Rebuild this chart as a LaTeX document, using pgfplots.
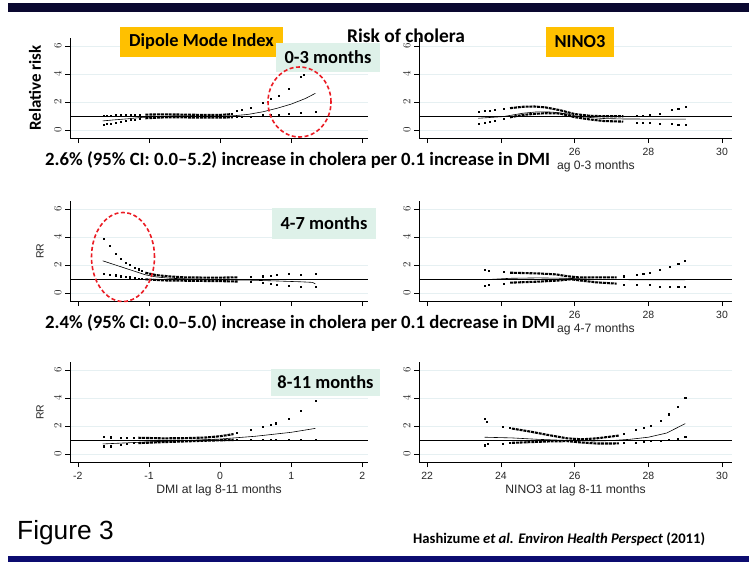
\documentclass[border=0pt]{standalone}
\usepackage{fontspec}
\setmainfont{Liberation Sans}
\newfontfamily\slide{Carlito}
\usepackage{pgfplots}
\pgfplotsset{compat=1.18}
\definecolor{topbar}{RGB}{10,8,48}
\definecolor{botbar}{RGB}{12,12,112}
\definecolor{gold}{RGB}{255,192,0}
\definecolor{mint}{RGB}{222,241,233}
\definecolor{gridc}{RGB}{230,240,242}
\definecolor{ring}{RGB}{235,28,36}

\pgfplotsset{
  rr/.style={scale only axis, height=100bp, ymin=-0.57, ymax=6.57, ytick={0,2,4,6},
    axis x line*=bottom, axis y line*=left, axis line style={black, line width=0.6pt},
    tick align=outside, major tick length=5bp, tick style={black, line width=0.6pt},
    ymajorgrids, grid style={gridc, line width=0.9pt},
    yticklabel style={rotate=90, anchor=south, font=\fontsize{10.5}{12}\selectfont, text=black!85},
    xticklabel style={font=\fontsize{10.5}{12}\selectfont, text=black!85, yshift=-1.5bp},
    xlabel style={font=\fontsize{12.2}{14}\selectfont, text=black!85,
      at={(axis description cs:0.5,0)}, anchor=north, yshift=-19bp},
    anchor=south west},
  dmi/.style={rr, width=298bp, xmin=-2.11, xmax=2.08, xtick={-2,-1,0,1,2}, xticklabels={-2,-1,0,1,2}},
  nino/.style={rr, width=313bp, xmin=21.78, xmax=30.27, xtick={22,24,26,28,30}, xticklabels={22,24,26,28,30}},
  hidden/.style={xticklabels={}},
  est/.style={black, line width=0.6pt, no marks},
  band/.style={black, line width=2.1pt, dash pattern=on 3pt off 0.9pt, no marks},
  dots/.style={only marks, mark=square*, mark size=0.55pt, black},
  ref/.style={black, line width=0.7pt, no marks},
}

\begin{document}
\begin{tikzpicture}
\useasboundingbox (0,0) rectangle (749bp,-562bp);
\fill[white] (0,0) rectangle (749bp,-562bp);

% row 1: lag 0-3 (left tick labels lie under the caption band)
\begin{axis}[dmi, hidden, at={(70bp,-138bp)}]
\addplot[ref] coordinates {(-2.11,1) (2.08,1)};
\addplot[est] coordinates {(-1.65,0.65) (-1.5,0.72) (-1.3,0.8) (-1.1,0.9) (-0.9,0.97) (-0.7,1.0) (-0.4,1.0) (-0.2,0.98) (0,0.98) (0.2,1.02) (0.4,1.12) (0.6,1.3) (0.8,1.55) (1.0,1.85) (1.2,2.25) (1.34,2.62)};
\addplot[band] coordinates {(-1.05,1.1) (-0.8,1.12) (-0.5,1.1) (-0.25,1.08) (0,1.08) (0.18,1.14)};
\addplot[band] coordinates {(-1.05,0.84) (-0.8,0.9) (-0.5,0.9) (-0.25,0.88) (0,0.88) (0.18,0.91)};
\addplot[dots] coordinates {(-1.64,1.05) (-1.6,1.04) (-1.54,1.05) (-1.47,1.06) (-1.4,1.06) (-1.33,1.07) (-1.26,1.08) (-1.2,1.09) (-1.13,1.1) (0.24,1.39) (0.3,1.45) (0.43,1.62) (0.6,1.93) (0.71,2.24) (0.83,2.47) (0.96,2.93) (1.14,3.78) (1.17,3.92)};
\addplot[dots] coordinates {(-1.64,0.38) (-1.6,0.42) (-1.54,0.48) (-1.47,0.54) (-1.4,0.6) (-1.33,0.66) (-1.26,0.71) (-1.2,0.75) (-1.13,0.8) (0.24,0.92) (0.3,0.94) (0.43,0.98) (0.6,1.06) (0.71,1.07) (0.83,1.08) (0.96,1.15) (1.14,1.25) (1.34,1.32)};
\end{axis}

\begin{axis}[nino, xticklabels={,,26,28,30}, at={(419bp,-138bp)}, xlabel={NINO3 at lag 0-3 months}, xlabel style={xshift=-8bp}]
\addplot[ref] coordinates {(21.78,1) (30.27,1)};
\addplot[est] coordinates {(23.39,0.84) (24.07,0.96) (24.6,1.2) (25.0,1.3) (25.4,1.28) (25.8,1.15) (26.0,1.02) (26.4,0.9) (26.8,0.82) (27.3,0.79) (28,0.78) (29.02,0.78)};
\addplot[band] coordinates {(24.25,1.56) (24.6,1.66) (24.9,1.68) (25.2,1.62) (25.6,1.42) (26.0,1.14) (26.4,1.02) (26.8,0.98) (27.32,0.98)};
\addplot[band] coordinates {(24.25,0.91) (24.6,1.08) (24.9,1.15) (25.2,1.2) (25.6,1.18) (26.0,0.92) (26.4,0.76) (26.8,0.64) (27.32,0.6)};
\addplot[dots] coordinates {(23.39,1.32) (23.57,1.38) (23.7,1.4) (23.84,1.44) (24.07,1.51) (27.68,1.01) (27.85,1.05) (28.04,1.08) (28.31,1.15) (28.63,1.44) (28.81,1.51) (29.02,1.68)};
\addplot[dots] coordinates {(23.39,0.48) (23.57,0.55) (23.7,0.6) (23.84,0.67) (24.07,0.84) (27.68,0.55) (27.85,0.55) (28.04,0.55) (28.31,0.48) (28.63,0.43) (28.81,0.36) (29.02,0.36)};
\end{axis}

% row 2: lag 4-7
\begin{axis}[dmi, hidden, at={(70bp,-301bp)}]
\addplot[ref] coordinates {(-2.11,1) (2.08,1)};
\addplot[est] coordinates {(-1.65,2.3) (-1.5,2.05) (-1.35,1.8) (-1.2,1.55) (-1.05,1.3) (-0.9,1.15) (-0.7,1.05) (-0.4,1.0) (0,0.95) (0.4,0.92) (0.8,0.86) (1.14,0.8) (1.3,0.76) (1.34,0.65)};
\addplot[band] coordinates {(-1.05,1.45) (-0.9,1.28) (-0.7,1.18) (-0.5,1.12) (-0.2,1.1) (0,1.1) (0.25,1.12)};
\addplot[band] coordinates {(-1.05,0.98) (-0.8,0.9) (-0.5,0.88) (-0.2,0.86) (0,0.85) (0.25,0.82)};
\addplot[dots] coordinates {(-1.64,3.9) (-1.55,3.36) (-1.47,2.8) (-1.4,2.42) (-1.33,2.15) (-1.27,2.0) (-1.2,1.83) (-1.15,1.7) (-1.1,1.58) (0.43,1.15) (0.6,1.2) (0.71,1.25) (0.8,1.3) (0.96,1.35) (1.14,1.3) (1.34,1.38)};
\addplot[dots] coordinates {(-1.64,1.38) (-1.55,1.33) (-1.47,1.27) (-1.4,1.2) (-1.33,1.16) (-1.27,1.13) (-1.2,1.07) (-1.15,1.04) (-1.1,1.0) (0.43,0.78) (0.6,0.72) (0.71,0.67) (0.8,0.62) (0.96,0.5) (1.14,0.48) (1.34,0.43)};
\end{axis}

\begin{axis}[nino, xticklabels={,,26,28,30}, at={(419bp,-301bp)}, xlabel={NINO3 at lag 4-7 months}, xlabel style={xshift=-8bp}]
\addplot[ref] coordinates {(21.78,1) (30.27,1)};
\addplot[est] coordinates {(23.57,0.95) (24.25,1.05) (25.0,1.08) (25.8,1.05) (26.5,0.98) (27.5,0.95) (29.0,0.95)};
\addplot[band] coordinates {(24.25,1.45) (25.0,1.4) (25.5,1.33) (25.8,1.2) (26.1,1.12) (26.6,1.12) (27.14,1.12)};
\addplot[band] coordinates {(24.25,0.74) (25.0,0.81) (25.6,0.9) (25.9,0.98) (26.2,0.88) (26.6,0.76) (27.14,0.67)};
\addplot[dots] coordinates {(23.57,1.69) (23.66,1.57) (24.07,1.5) (27.32,1.2) (27.68,1.33) (27.86,1.38) (28.04,1.45) (28.31,1.69) (28.58,1.86) (28.81,2.1) (28.99,2.33)};
\addplot[dots] coordinates {(23.57,0.5) (23.66,0.57) (24.07,0.67) (27.32,0.62) (27.68,0.57) (28.04,0.57) (28.31,0.45) (28.58,0.45) (28.81,0.45) (28.99,0.43)};
\end{axis}

% row 3: lag 8-11
\begin{axis}[dmi, at={(70bp,-462bp)}, xlabel={DMI at lag 8-11 months}]
\addplot[ref] coordinates {(-2.11,1) (2.08,1)};
\addplot[est] coordinates {(-1.65,0.72) (-1.3,0.8) (-1.0,0.87) (-0.5,0.96) (0,1.07) (0.5,1.27) (1.0,1.55) (1.34,1.83)};
\addplot[band] coordinates {(-1.15,1.16) (-0.8,1.12) (-0.5,1.13) (-0.2,1.18) (0,1.27) (0.19,1.42)};
\addplot[band] coordinates {(-1.15,0.78) (-0.8,0.85) (-0.5,0.9) (-0.2,0.95) (0,0.98) (0.19,1.0)};
\addplot[dots] coordinates {(-1.63,1.22) (-1.54,1.2) (-1.4,1.15) (-1.31,1.17) (-1.21,1.17) (0.24,1.55) (0.43,1.74) (0.6,1.97) (0.71,2.1) (0.78,2.2) (0.96,2.55) (1.14,3.1) (1.34,3.8)};
\addplot[dots] coordinates {(-1.63,0.56) (-1.54,0.56) (-1.4,0.67) (-1.31,0.74) (-1.21,0.79) (0.24,1.0) (0.43,1.0) (0.6,1.0) (0.71,1.02) (0.78,1.05) (0.96,1.0) (1.14,1.0) (1.34,1.05)};
\end{axis}

\begin{axis}[nino, at={(419bp,-462bp)}, xlabel={NINO3 at lag 8-11 months}]
\addplot[ref] coordinates {(21.78,1) (30.27,1)};
\addplot[est] coordinates {(23.56,1.2) (24.3,1.15) (25.0,1.05) (25.8,0.97) (26.5,0.93) (27.0,0.96) (27.5,1.05) (28.0,1.2) (28.5,1.5) (29.0,2.17)};
\addplot[band] coordinates {(24.3,1.82) (24.8,1.6) (25.3,1.35) (25.8,1.12) (26.2,1.05) (26.6,1.12) (27.0,1.25) (27.2,1.32)};
\addplot[band] coordinates {(24.3,0.8) (24.8,0.85) (25.3,0.9) (25.8,0.92) (26.2,0.82) (26.6,0.75) (27.0,0.75) (27.2,0.76)};
\addplot[dots] coordinates {(23.56,2.5) (23.62,2.3) (24.05,1.97) (24.23,1.85) (27.33,1.43) (27.65,1.74) (27.88,1.9) (28.06,2.04) (28.33,2.39) (28.56,2.84) (28.79,3.37) (29.0,4.03)};
\addplot[dots] coordinates {(23.56,0.63) (23.65,0.73) (24.05,0.76) (24.23,0.8) (27.33,0.84) (27.65,0.84) (27.88,0.91) (28.06,0.96) (28.33,0.98) (28.56,1.03) (28.79,1.1) (29.0,1.26)};
\end{axis}

% y labels
\node[rotate=90, font=\slide\bfseries\fontsize{17}{20}\selectfont] at (35bp,-88bp) {Relative risk};
\node[rotate=90, font=\fontsize{10.5}{12}\selectfont, text=black!85] at (40bp,-251bp) {RR};
\node[rotate=90, font=\fontsize{10.5}{12}\selectfont, text=black!85] at (40bp,-412bp) {RR};

% slide overlays
\fill[topbar] (8bp,-3.3bp) rectangle (749bp,-11.7bp);
\fill[botbar] (8bp,-556bp) rectangle (749bp,-562bp);

\fill[white] (0,-145bp) rectangle (557bp,-176bp);
\fill[white] (0,-307bp) rectangle (557bp,-338bp);
\node[anchor=west, inner sep=0, font=\slide\bfseries\fontsize{18.8}{22}\selectfont] at (45bp,-160bp) {2.6\% (95\% CI: 0.0–5.2) increase in cholera per 0.1 increase in DMI};
\node[anchor=west, inner sep=0, font=\slide\bfseries\fontsize{18.8}{22}\selectfont] at (45bp,-323bp) {2.4\% (95\% CI: 0.0–5.0) increase in cholera per 0.1 decrease in DMI};

\fill[gold] (120bp,-27bp) rectangle (283bp,-57bp);
\node[font=\slide\bfseries\fontsize{18.4}{21}\selectfont] at (201.5bp,-42bp) {Dipole Mode Index};
\fill[gold] (546bp,-27bp) rectangle (614bp,-57bp);
\node[font=\slide\bfseries\fontsize{18.4}{21}\selectfont] at (580bp,-42bp) {NINO3};
\node[font=\slide\bfseries\fontsize{19.5}{22}\selectfont] at (406bp,-36bp) {Risk of cholera};

\fill[mint] (276bp,-43bp) rectangle (380bp,-72bp);
\node[font=\slide\bfseries\fontsize{18.5}{21}\selectfont] at (328bp,-57.5bp) {0-3 months};
\fill[mint] (272bp,-208bp) rectangle (376bp,-239bp);
\node[font=\slide\bfseries\fontsize{18.5}{21}\selectfont] at (324bp,-223.5bp) {4-7 months};
\fill[mint] (271bp,-369bp) rectangle (380bp,-396bp);
\node[font=\slide\bfseries\fontsize{18.5}{21}\selectfont] at (325.5bp,-382.5bp) {8-11 months};

\draw[ring, line width=1.6pt, dash pattern=on 4pt off 2.5pt] (299.5bp,-102bp) ellipse [x radius=31.5bp, y radius=35bp];
\draw[ring, line width=1.6pt, dash pattern=on 4pt off 2.5pt] (123bp,-257bp) ellipse [x radius=31.5bp, y radius=44.5bp];

\node[anchor=base west, inner sep=0, font=\fontsize{26.4}{30}\selectfont] at (17bp,-539bp) {Figure 3};
\node[anchor=base west, inner sep=0, font=\slide\bfseries\fontsize{14.7}{17}\selectfont] at (413bp,-543bp) {Hashizume \textit{et al. Environ Health Perspect} (2011)};
\end{tikzpicture}
\end{document}
